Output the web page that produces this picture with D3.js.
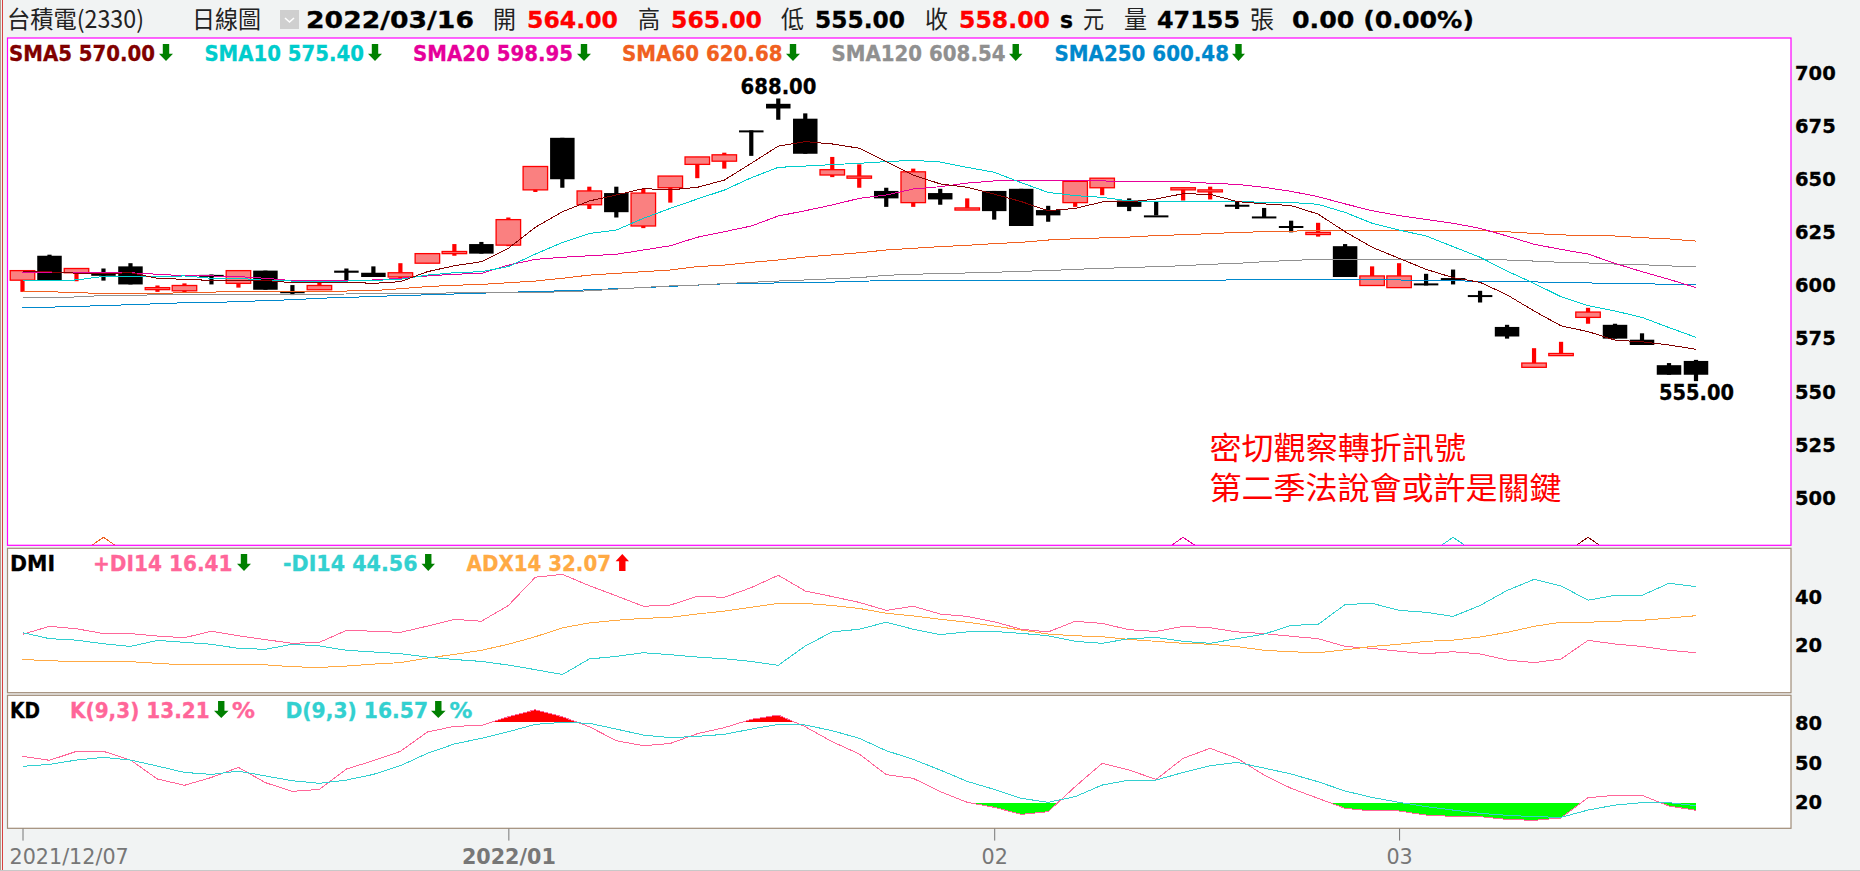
<!DOCTYPE html>
<html><head><meta charset="utf-8">
<script src="https://cdnjs.cloudflare.com/ajax/libs/d3/7.8.5/d3.min.js"></script>
<style>html,body{margin:0;padding:0;background:#f1f3f3;overflow:hidden}svg{display:block}</style>
</head><body><svg id="c" width="1860" height="871"></svg>
<script>
const opens=[602.5,614,606,605.5,609,598.5,597.5,605,601,607,597.3,598,607,606,604,610.5,615,619.5,619,645,669.5,638,643.5,628,646,657,658.5,673,685.5,678.5,652,650.5,644.5,639,643.5,635.5,644.5,645.5,635.5,639,646,640,633,645,644.5,638,632.5,628,624,618.5,600,599,601,603.5,595.5,580.5,561.5,567,585,581.5,574.5,562.5,564.5];
const highs=[607,614.5,608,608,610.5,600,601,605.2,607,607,600.2,601.5,608,609,610.5,615,619.5,620.5,632,656,669.5,646.5,646.5,645.5,651.5,660.5,662.5,673,688,681,660.5,657,646,655,645.5,641,644.5,645.5,637.5,649,650.5,641,639.5,646,646.5,639.5,636.5,630.5,629.5,619.5,609,610.5,605.5,607.5,597.5,581.5,570.5,573.5,589.5,582,577.5,563.5,565];
const lows=[597,602.5,602,602.3,600.5,597,596.5,600.5,599,598,595.5,598,602.5,604,603,610.5,614,615,618.5,644,646,636,632,627,639,650.5,655,661,678,662,651,646,637,637,638,635.5,631,628,630,637,642.5,635,633,640,640.5,636,632,625,623,604,600,599,600,600.5,592,575,561.5,567,582,575,572,558,555];
const closes=[607,602.5,608,605,600.5,599,600,605,607,598,597,600,606,604,606,615,616,615,631,656,650,644.5,634.5,643.5,651.5,660.5,661.5,672.5,683.3,662,654.5,651.5,641,653.5,640.5,636.5,635,628,633,649,650.5,637,633,646,645,637.5,632.5,627.5,625,604,604.5,604.5,601,602.5,595.5,576,563.5,568,587.5,575,572,558,558];
const sma5=[606.4,606.4,605.8,605.6,606,603.4,602.9,602.4,602.4,602.4,601.3,601.3,601.6,601,601.8,606.5,609.3,611.2,617.5,627.4,634.7,639.8,642.6,645.6,645,646.2,649.6,657.5,665.6,667.7,666.6,664.6,658.3,652,647.8,646.2,643,639.5,635.2,636.3,639.3,639.3,640.7,643.2,642.9,639.5,638.4,637.6,633.6,625.3,618,612.8,607.6,603.7,601.5,595.6,588,581,578.3,574.3,573.5,572,570];
const sma10=[602.4,602.4,602.6,604.3,604.3,604.2,604.5,603.4,603.4,602.4,602.1,602.1,602.1,602.4,602.9,604.9,606,606.5,608.9,614.8,620.2,624.5,626.1,631.6,636.3,640.7,644.9,650.7,655.6,656.2,656.9,657.5,658.3,658.9,658.1,655.6,653.3,648.4,643.8,642.3,641.5,639.8,639.6,639.5,639.6,639.6,639.1,639.1,638.2,634.4,629.3,626.1,623.3,618.3,613.3,606.8,601,594.7,590.5,588,585,580.2,575.6];
const sma20=[606.2,606.3,606.2,606,606,605.3,604.6,604.5,604.2,603.4,602.3,602.3,602.3,602.6,603.4,604.5,605.3,605.7,609.6,612.3,613.3,614,614.7,616.7,618.7,622.7,625.3,628,632.7,635.2,637.9,641,642.6,645.4,646.5,648.2,649.2,649.2,649.2,649.2,649.2,649,649,648.9,648.1,647.6,646.2,644.3,641.8,638.4,635.2,632.9,631.1,629.3,626.9,623.3,619.4,617,614.8,610.4,606.5,602.9,599];
const sma60=[597.1,597.1,596.6,596.3,596.3,596.3,596.6,596.9,597.1,597.1,597.1,597.1,597.4,597.6,598.5,599.5,600.1,600.5,601.3,602.1,603.4,604.9,605.7,606.5,607.3,608.9,609.6,610.9,612,613.4,614.4,615.4,616.7,617.5,618.3,618.9,619.7,620.3,621.4,622,622.4,622.8,623.5,623.9,624.4,625,625.3,625.6,625.8,625.8,625.8,625.8,625.8,625.8,625.8,625.3,624.5,623.8,623.6,623.3,622.5,621.9,620.9];
const sma120=[594.4,594.4,594.6,595.3,595.4,595.6,595.7,595.7,595.8,595.8,595.8,595.9,596,596.1,596.3,596.4,596.5,596.6,596.7,596.8,597,597.5,598.3,599.1,599.8,600.2,600.9,601.5,602.1,602.6,603.2,603.7,604.8,605.3,605.6,605.9,606.2,606.7,607,607.6,608.1,608.4,608.9,609.3,610,610.4,611.2,611.8,612.3,612.3,612.3,612.3,612.3,612.3,612.3,612,611.5,610.9,610.6,610.1,609.8,609.2,608.9];
const sma250=[589.7,589.8,590.2,590.5,591,591.4,591.9,592,592.4,592.9,593.3,594,594.4,594.8,595.3,595.6,596,596.4,596.8,597.2,597.5,598,598.5,599,599.6,600.2,600.8,601,601.2,601.4,601.6,602,602.3,602.3,602.3,602.3,602.3,602.3,602.3,602.3,602.3,602.3,602.3,602.3,602.3,602.8,602.9,602.9,602.9,602.9,602.8,602.6,602.4,602.2,602,601.8,601.7,601.3,601.2,601,600.8,600.6,600.5];
const plusDI=[24.7,28,27,25,25,24,23.3,26,24.1,22.5,21,21.4,26.3,26,25.5,28.1,30.9,30.1,36.6,48.3,49.5,44.8,40.6,36.3,36.8,40.4,40,44,49.1,42.6,40.3,37.9,34.6,36.3,33.1,32.1,29.9,26.8,25.7,30.1,29.2,26.6,25.9,28,27.4,25.7,25,23.9,22.9,19.7,18.9,17.7,16.7,17.5,16.6,14.1,13,14.5,22.2,20.7,19.7,18.1,17.1];
const minusDI=[25.4,22.9,22.3,20.8,19.7,22.2,21.4,20.6,18.9,18.5,20.6,19.9,18.1,17.4,16.7,15.3,14.3,13.5,12,10.1,8.1,14.5,15.6,17.1,16.3,15.3,14.6,13.5,11.9,19.9,25.7,26.8,29.7,26.8,24.6,25.7,25.9,25.1,24.1,21.8,21,22.9,23.4,21.8,21,22.9,24.8,28.4,28.8,37,37.5,34.6,33.8,32.1,36.6,42.8,47.4,44.7,38.8,40.8,40.8,45.8,44.4];
const adx=[14.3,13.8,13.4,13.4,13.4,12.7,12.1,12.1,12.1,12.1,11.3,11,11.6,12.4,13,14.9,16.4,18.1,20.6,23.7,27.4,29.4,30.5,31.3,31.7,33.1,34.3,35.9,37.5,37.5,36.6,35.4,33.4,32.3,30.9,29.7,28.1,26.5,24.8,24.1,23.7,22.6,21.8,21,20.6,19.6,18.1,17.5,17.1,18.3,19.7,20.6,21.8,22.3,23.6,25.5,28,29.7,29.7,30.1,30.5,31.4,32.4];
const kLine=[55.2,52.2,59,59,52.4,38,33.2,39.2,46.8,35.2,28.6,30.1,45.6,51.9,59,73.7,78,78.7,85.3,90.6,85.3,77.7,67.1,63.3,65,72.4,77,83.3,86.6,77.7,66.3,57,41.3,38.5,28.4,20.3,16.5,11.1,13.2,32.2,49.9,44.8,37.7,53.7,61.3,53.7,41,30.9,23.3,15.7,13.7,13.7,10.6,9.6,9.4,7.3,6.6,8.4,23.8,25.6,25.6,17.5,14.2];
const dLine=[47.6,49.1,52.4,54.4,52.4,47.8,43,41.5,44,40.3,36.7,34.7,37.2,41.5,48.1,57.5,64.6,68.9,73.9,79.5,81,80.3,75.9,71.4,69.4,70.4,71.9,75.9,79.5,79,74.7,68.9,59.5,52.9,44.8,36.2,30.1,23.3,20.3,24.6,33.4,37.2,37.2,43,48.1,50.6,46.3,41.8,35.9,28.9,24,20.3,17,14.4,11.9,10.4,9.4,8.9,14.4,18.2,20,20,17.7];
const priceTicks=[700,675,650,625,600,575,550,525,500];
const dmiTicks=[40,20];
const kdTicks=[80,50,20];
const dateTicks=[[0,"2021/12/07"],[18,"2022/01"],[36,"02"],[51,"03"]];
const crossMarks=[[3,"#f06020"],[43,"#e6009a"],[53,"#22cccc"],[58,"#800000"]];
const kdHigh=81.5, kdLow=20;

const svg=d3.select("#c");
const W=1860,H=871,L=7.5,R=1791;
const MONO='"DejaVu Sans",sans-serif', CJK='"Noto Sans CJK TC","Noto Sans",sans-serif';
const x=d3.scaleLinear().domain([0,62]).range([22.5,1696]);
const yP=d3.scaleLinear().domain([500,700]).range([498,73]);
const yD=d3.scaleLinear().domain([20,40]).range([645.7,597.3]);
const yK=d3.scaleLinear().domain([20,80]).range([802.7,723.7]);
const n=closes.length, idx=d3.range(n);

svg.append("rect").attr("width",W).attr("height",H).attr("fill","#f1f3f3");
svg.append("rect").attr("x",0).attr("width",1).attr("height",H).attr("fill","#b0a090");
svg.append("rect").attr("x",2).attr("width",1).attr("height",H).attr("fill","#d84040");
svg.append("rect").attr("x",0).attr("y",870).attr("width",W).attr("height",1).attr("fill","#c8c8c8");

const panels=[[38,545.3,"#ff00ff"],[548.3,692.7,"#a08c78"],[695.3,828.3,"#a08c78"]];
const defs=svg.append("defs");
panels.forEach((p,i)=>{
  svg.append("rect").attr("x",L).attr("y",p[0]).attr("width",R-L).attr("height",p[1]-p[0]).attr("fill","#fff");
  defs.append("clipPath").attr("id","clip"+i).append("rect").attr("x",L).attr("y",p[0]).attr("width",R-L).attr("height",p[1]-p[0]);
});

// candles
const gC=svg.append("g").attr("clip-path","url(#clip0)");
const WICK=4.2,BW=24.5;
idx.forEach(i=>{
  const up=closes[i]>opens[i];
  const col=up?"#ff0000":"#000000";
  const top=Math.max(opens[i],closes[i]),bot=Math.min(opens[i],closes[i]);
  gC.append("rect").attr("x",x(i)-WICK/2).attr("width",WICK).attr("y",yP(highs[i])).attr("height",yP(lows[i])-yP(highs[i])).attr("fill",col);
  const h=Math.max(yP(bot)-yP(top),2);
  gC.append("rect").attr("x",x(i)-BW/2).attr("width",BW).attr("y",yP(top)).attr("height",h)
    .attr("fill",up?"#fa8080":"#000").attr("stroke",up?"#ff0000":"none").attr("stroke-width",up?1.3:0);
});
const line=(g,data,yS,col,w)=>g.append("path").datum(data)
  .attr("d",d3.line().x((d,i)=>x(i)).y(d=>yS(d))).attr("fill","none").attr("stroke",col).attr("stroke-width",w||1).attr("shape-rendering","crispEdges");
[[sma250,"#0088cc"],[sma120,"#909090"],[sma60,"#f06020"],[sma20,"#e6009a"],[sma10,"#00cccc"],[sma5,"#800000"]].forEach(s=>line(gC,s[0],yP,s[1]));
// small chevrons on the lower edge of the price panel
crossMarks.forEach(m=>{
  svg.append("path").attr("d",d3.line()([[x(m[0])-11.2,545],[x(m[0]),537.3],[x(m[0])+11.2,545]]))
    .attr("fill","none").attr("stroke",m[1]).attr("stroke-width",1).attr("shape-rendering","crispEdges");
});
// DMI
const gD=svg.append("g").attr("clip-path","url(#clip1)");
[[plusDI,"#ff6699"],[adx,"#ffaa44"],[minusDI,"#33d0d0"]].forEach(s=>line(gD,s[0],yD,s[1]));
// KD
const gK=svg.append("g").attr("clip-path","url(#clip2)");
const hiY=Math.round(yK(kdHigh)),loY=Math.round(yK(kdLow));
defs.append("clipPath").attr("id","aboveHi").append("rect").attr("x",L).attr("y",695).attr("width",R-L).attr("height",hiY-695);
defs.append("clipPath").attr("id","belowLo").append("rect").attr("x",L).attr("y",loY).attr("width",R-L).attr("height",828-loY);
gK.append("path").datum(kLine).attr("clip-path","url(#aboveHi)").attr("fill","#ff0000")
  .attr("d",d3.area().x((d,i)=>x(i)).y0(hiY).y1(d=>yK(d)));
gK.append("path").datum(kLine).attr("clip-path","url(#belowLo)").attr("fill","#00ff00")
  .attr("d",d3.area().x((d,i)=>x(i)).y0(loY).y1(d=>yK(d)));
[[kLine,"#ff6699"],[dLine,"#33d0d0"]].forEach(s=>line(gK,s[0],yK,s[1]));

// panel frames above marks
panels.forEach(p=>svg.append("rect").attr("x",L).attr("y",p[0]).attr("width",R-L).attr("height",p[1]-p[0])
  .attr("fill","none").attr("stroke",p[2]).attr("stroke-width",1.2));

// text helper: fits to measured extent
function T(x0,x1,yc,s,col,opt){
  opt=opt||{};
  const t=svg.append("text").attr("x",x0).attr("y",yc).attr("dy",opt.dy||"0.36em").attr("fill",col)
    .attr("font-family",opt.cjk?CJK:MONO).attr("font-weight",opt.weight||(opt.cjk?"normal":"bold"))
    .attr("font-size",opt.size||20.5).attr("textLength",x1-x0).attr("lengthAdjust","spacingAndGlyphs").text(s);
  if(!opt.cjk) t.attr("stroke",col).attr("stroke-width",0.3);
}
function arrow(x0,x1,y0,y1,col,up){
  const m=(x0+x1)/2,s=3.2,hh=(y1-y0)*0.42;
  const pts=up?[[m,y0],[x1,y0+hh],[m+s,y0+hh],[m+s,y1],[m-s,y1],[m-s,y0+hh],[x0,y0+hh]]
              :[[m,y1],[x1,y1-hh],[m+s,y1-hh],[m+s,y0],[m-s,y0],[m-s,y1-hh],[x0,y1-hh]];
  svg.append("polygon").attr("points",pts.map(p=>p.join(",")).join(" ")).attr("fill",col);
}
// header
const hy=19.5;
T(7,144,hy,"台積電(2330)","#222",{cjk:1,size:24});
T(192,261,hy,"日線圖","#222",{cjk:1,size:24});
svg.append("rect").attr("x",280).attr("y",10).attr("width",19).attr("height",19).attr("fill","#cfcfcf");
svg.append("path").attr("d","M285,18 L289.5,22 L294,18").attr("fill","none").attr("stroke","#fff").attr("stroke-width",1.6);
T(306,474,hy,"2022/03/16","#000",{size:22.5});
T(493,516,hy,"開","#222",{cjk:1,size:24});
T(527,618,hy,"564.00","#ff0000",{size:22.5});
T(638,660,hy,"高","#222",{cjk:1,size:24});
T(671,762,hy,"565.00","#ff0000",{size:22.5});
T(781,804,hy,"低","#222",{cjk:1,size:24});
T(815,905,hy,"555.00","#000",{size:22.5});
T(925,948,hy,"收","#222",{cjk:1,size:24});
T(959,1050,hy,"558.00","#ff0000",{size:22.5});
T(1060,1073,hy,"s","#000",{size:22.5});
T(1083,1104,hy,"元","#222",{cjk:1,size:24});
T(1124,1147,hy,"量","#222",{cjk:1,size:24});
T(1157,1240,hy,"47155","#000",{size:22.5});
T(1250,1274,hy,"張","#222",{cjk:1,size:24});
T(1292,1474,hy,"0.00 (0.00%)","#000",{size:22.5});
// price legend
const ly=53.5;
T(9,155,ly,"SMA5 570.00","#800000");arrow(159,173,44,61,"#008000");
T(204.4,364,ly,"SMA10 575.40","#00cccc");arrow(368,382,44,61,"#008000");
T(413,573,ly,"SMA20 598.95","#e6009a");arrow(577,591,44,61,"#008000");
T(622,782.5,ly,"SMA60 620.68","#f06020");arrow(786,800,44,61,"#008000");
T(831.5,1005.5,ly,"SMA120 608.54","#909090");arrow(1009,1022.5,44,61,"#008000");
T(1054.5,1229,ly,"SMA250 600.48","#0088cc");arrow(1232,1245,44,61,"#008000");
T(740.6,816.5,86.7,"688.00","#000");
T(1659,1734,393,"555.00","#000");
T(1209.5,1466,448,"密切觀察轉折訊號","#ff0000",{cjk:1,size:31});
T(1209.5,1561.5,488,"第二季法說會或許是關鍵","#ff0000",{cjk:1,size:31});
// DMI legend
const dy=564;
T(10,55,dy,"DMI","#000");
T(93,232.5,dy,"+DI14 16.41","#ff6699");arrow(237,251,554,571,"#008000");
T(283,417.5,dy,"-DI14 44.56","#33d0d0");arrow(421.5,435,554,571,"#008000");
T(466.6,611,dy,"ADX14 32.07","#ffaa44");arrow(615.6,629,554,571,"#ff0000",true);
// KD legend
const ky=710.7;
T(10,40,ky,"KD","#000");
T(70,209.6,ky,"K(9,3) 13.21","#ff6699");arrow(214,228.5,701,718,"#008000");T(232,255,ky,"%","#ff6699");
T(285.5,428,ky,"D(9,3) 16.57","#33d0d0");arrow(431,445.6,701,718,"#008000");T(449.6,472.5,ky,"%","#33d0d0");

// axes
function yAxis(scale,vals){
  const g=svg.append("g").attr("transform","translate(1795,0)")
    .call(d3.axisRight(scale).tickValues(vals).tickSize(0).tickPadding(0));
  g.select(".domain").remove();
  g.selectAll("text").attr("font-family",MONO).attr("font-weight","bold").attr("font-size",19.5).attr("fill","#000").attr("stroke","#000").attr("stroke-width",0.3);
}
yAxis(yP,priceTicks);yAxis(yD,dmiTicks);yAxis(yK,kdTicks);
const labels=new Map(dateTicks);
const gx=svg.append("g").attr("transform","translate(0,828.6)")
  .call(d3.axisBottom(x).tickValues(dateTicks.map(d=>d[0])).tickFormat(d=>labels.get(d)).tickSize(12).tickPadding(9));
gx.select(".domain").remove();
gx.selectAll("line").attr("stroke","#777");
gx.selectAll("text").attr("font-family",MONO).attr("font-size",20.7).attr("fill","#777")
  .attr("font-weight",d=>d===18?"bold":"normal")
  .attr("text-anchor",d=>d===0?"start":"middle")
  .attr("x",d=>d===0?-13.5:0);
</script></body></html>
